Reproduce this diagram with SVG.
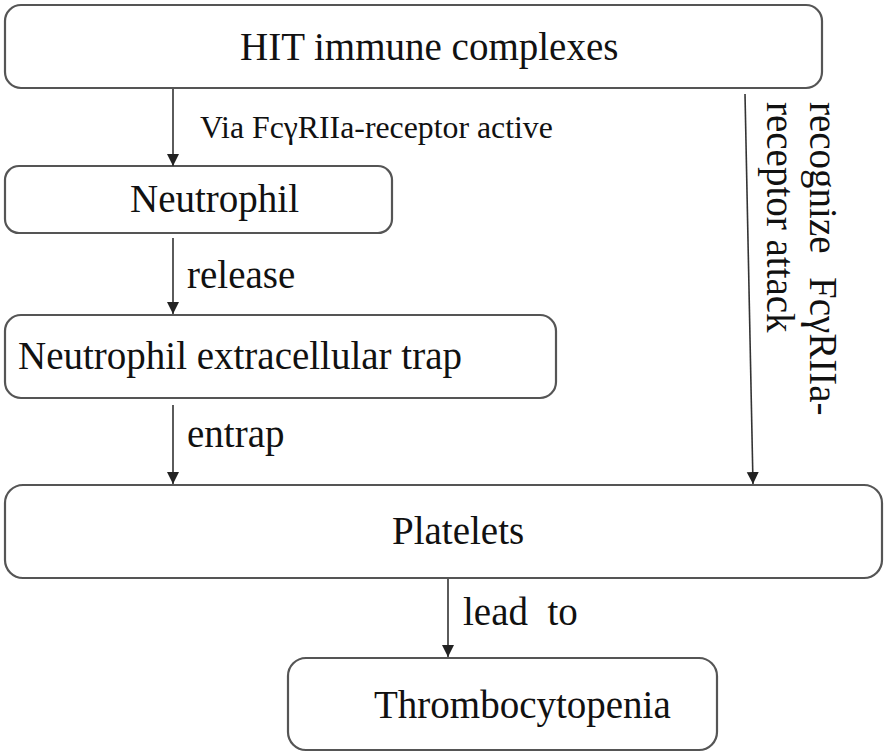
<svg xmlns="http://www.w3.org/2000/svg" width="886" height="755" viewBox="0 0 886 755">
<style>
.box{fill:#fff;stroke:#555;stroke-width:2.2}
.t{font-family:"Liberation Serif","Times New Roman",serif;font-size:39px;fill:#111}
.s{font-family:"Liberation Serif","Times New Roman",serif;font-size:31.8px;fill:#111}
.c{stroke:#333;stroke-width:1.6;fill:none;marker-end:url(#ah)}
</style>
<defs>
<marker id="ah" markerUnits="userSpaceOnUse" markerWidth="12" markerHeight="14" viewBox="0 0 12 14" refX="12" refY="7" orient="auto">
<path d="M0,1 L12,7 L0,13 Z" fill="#222"/>
</marker>
</defs>
<rect width="886" height="755" fill="#fff"/>
<g id="hit"><rect class="box" x="5" y="5" width="817" height="83" rx="16"/><text class="t" x="240" y="60">HIT immune complexes</text></g>
<g id="neutrophil"><rect class="box" x="5" y="166" width="387" height="67" rx="14"/><text class="t" x="130" y="212">Neutrophil</text></g>
<g id="net"><rect class="box" x="5" y="315" width="551" height="83" rx="16"/><text class="t" x="18" y="369">Neutrophil extracellular trap</text></g>
<g id="platelets"><rect class="box" x="5" y="485" width="877" height="93" rx="18"/><text class="t" x="392" y="544">Platelets</text></g>
<g id="thrombo"><rect class="box" x="288" y="658" width="429" height="92" rx="18"/><text class="t" x="374" y="718">Thrombocytopenia</text></g>
<g id="connectors">
<line class="c" x1="173" y1="89" x2="173" y2="166"/>
<line class="c" x1="173" y1="238" x2="173" y2="314"/>
<line class="c" x1="173" y1="405" x2="173" y2="484"/>
<line class="c" x1="745" y1="94" x2="753" y2="484"/>
<line class="c" x1="448" y1="579" x2="448" y2="657"/>
<text class="s" x="200" y="138">Via FcγRIIa-receptor active</text>
<text class="t" x="187" y="288">release</text>
<text class="t" x="187" y="447">entrap</text>
<text class="t" x="463" y="625" xml:space="preserve">lead  to</text>
<g transform="translate(810,102) rotate(90)">
<text class="t" x="0" y="0">recognize<tspan x="175">FcγRIIa-</tspan></text>
<text class="t" x="0" y="43">receptor attack</text>
</g>
</g>
</svg>
